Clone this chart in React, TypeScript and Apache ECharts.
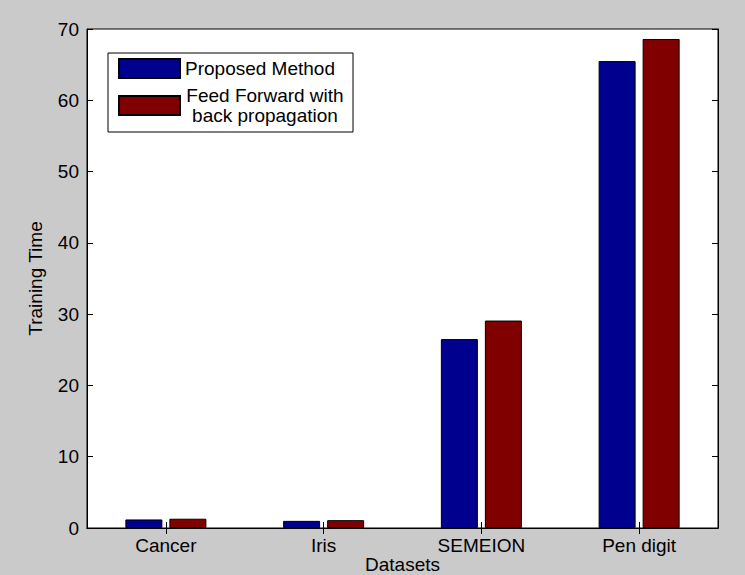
import React, { useEffect, useRef } from "react";
import * as echarts from "echarts";

// Training time per dataset for the two methods
const categories = ["Cancer", "Iris", "SEMEION", "Pen digit"];
const proposedMethod = [1.2, 1.0, 26.5, 65.5];
const feedForwardBP = [1.3, 1.1, 29.1, 68.6];
const seriesNames = ["Proposed Method", "Feed Forward with\nback propagation"];

const FONT = "'Liberation Sans', Arial, sans-serif";
const FS = 19;

export default function App() {
  const ref = useRef<HTMLDivElement>(null);

  useEffect(() => {
    if (!ref.current) return;
    const chart = echarts.init(ref.current, undefined, { renderer: "svg" });

    const axisCommon = {
      axisLine: { show: true, lineStyle: { color: "#000", width: 1 } },
      axisTick: { show: true, inside: true, length: 6, lineStyle: { color: "#000", width: 1 } },
      splitLine: { show: false },
    };

    chart.setOption({
      animation: false,
      backgroundColor: "#cbcacb",
      textStyle: { fontFamily: FONT },
      grid: {
        left: 87,
        top: 29,
        right: 27,
        bottom: 47,
        outerBoundsMode: "none",
        containLabel: false,
        show: true,
        backgroundColor: "#ffffff",
        borderColor: "#000",
        borderWidth: 1,
      },
      legend: {
        left: 108,
        top: 53,
        orient: "vertical",
        itemWidth: 61,
        itemHeight: 19,
        itemGap: 7,
        padding: [5, 8, 7, 10],
        backgroundColor: "#ffffff",
        borderColor: "#000",
        borderWidth: 1,
        borderRadius: 0,
        icon: "rect",
        data: seriesNames,
        formatter: (name: string) => {
          const lines = name.split("\n");
          const key = lines.length > 1 ? "c" : "l";
          return lines.map((line) => `{${key}|${line}}`).join("\n");
        },
        textStyle: {
          fontFamily: FONT,
          fontSize: FS,
          color: "#000",
          rich: {
            l: { fontFamily: FONT, fontSize: FS, lineHeight: 20, width: 160, align: "left", color: "#000" },
            c: { fontFamily: FONT, fontSize: FS, lineHeight: 20, width: 160, align: "center", color: "#000" },
          },
        },
      },
      xAxis: [
        {
          type: "category",
          data: categories,
          position: "bottom",
          boundaryGap: true,
          ...axisCommon,
          axisTick: { ...axisCommon.axisTick, alignWithLabel: true },
          axisLabel: { fontFamily: FONT, fontSize: FS, color: "#000", margin: 8 },
          name: "Datasets",
          nameLocation: "middle",
          nameMoveOverlap: false,
          nameGap: 46,
          nameTextStyle: {
            fontFamily: FONT,
            fontSize: FS,
            lineHeight: 20,
            color: "#000",
            verticalAlign: "bottom",
          },
        },
        {
          type: "category",
          data: categories,
          position: "top",
          boundaryGap: true,
          ...axisCommon,
          axisTick: { ...axisCommon.axisTick, alignWithLabel: true },
          axisLabel: { show: false },
        },
      ],
      yAxis: [
        {
          type: "value",
          min: 0,
          max: 70,
          interval: 10,
          position: "left",
          ...axisCommon,
          axisLabel: { fontFamily: FONT, fontSize: FS, color: "#000", margin: 8 },
          name: "Training Time",
          nameLocation: "middle",
          nameGap: 42,
          nameTextStyle: { fontFamily: FONT, fontSize: FS, color: "#000" },
        },
        {
          type: "value",
          min: 0,
          max: 70,
          interval: 10,
          position: "right",
          ...axisCommon,
          axisLabel: { show: false },
        },
      ],
      series: [
        {
          name: seriesNames[0],
          type: "bar",
          data: proposedMethod,
          barWidth: 37,
          barGap: "19%",
          itemStyle: { color: "#00008f", borderColor: "#000", borderWidth: 1 },
        },
        {
          name: seriesNames[1],
          type: "bar",
          data: feedForwardBP,
          barWidth: 37,
          barGap: "19%",
          itemStyle: { color: "#800000", borderColor: "#000", borderWidth: 1 },
        },
      ],
    });

    return () => chart.dispose();
  }, []);

  return (
    <div
      ref={ref}
      style={{ position: "absolute", left: 0, top: 0, width: 745, height: 575 }}
    />
  );
}
